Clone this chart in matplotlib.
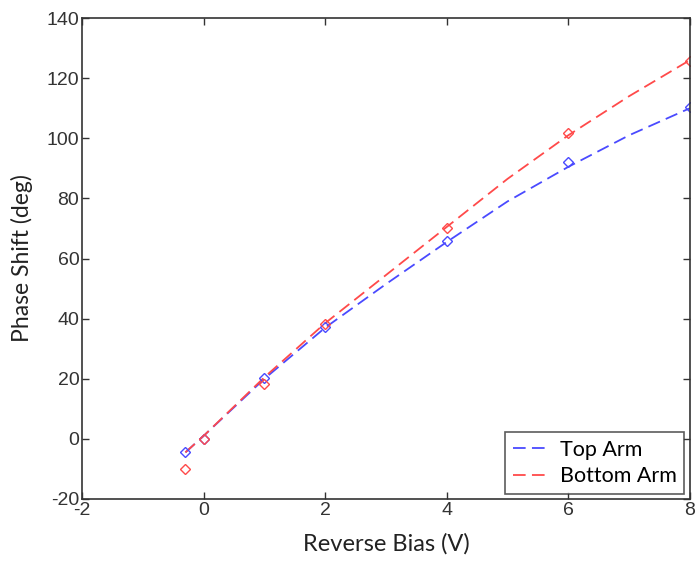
import matplotlib
matplotlib.use('Agg')
import matplotlib.pyplot as plt

plt.rcParams['axes.unicode_minus'] = False

# measured phase shift (diamonds)
bias_meas = [-0.3, 0, 1, 2, 4, 6, 8]
top_meas = [-4.5, 0, 20.3, 37.3, 66, 92, 110.3]
bottom_meas = [-10, 0, 18.3, 38.3, 70.3, 101.7, 125.7]

# fit curves (dashed)
bias_fit = [-0.3, 0, 1, 2, 3, 4, 5, 6, 7, 8]
top_fit = [-4.5, 1, 20, 37, 51.5, 65.5, 79, 90.5, 101, 110]
bottom_fit = [-4.5, 1, 20.5, 38.5, 54.5, 70.5, 86.5, 101, 114, 126]

blue = '#4a4aff'
red = '#ff4a4a'
label_font = 'Lato'

fig = plt.figure(figsize=(6.96, 5.67), dpi=100)
ax = fig.add_axes([0.118, 0.120, 0.873, 0.848])

ax.plot(bias_fit, top_fit, color=blue, linestyle=(0, (7, 3.5)), linewidth=1.3, label='Top Arm')
ax.plot(bias_fit, bottom_fit, color=red, linestyle=(0, (7, 3.5)), linewidth=1.3, label='Bottom Arm')
ax.plot(bias_meas, top_meas, linestyle='none', marker='D', markersize=5,
        markerfacecolor='none', markeredgecolor=blue, markeredgewidth=1)
ax.plot(bias_meas, bottom_meas, linestyle='none', marker='D', markersize=5,
        markerfacecolor='none', markeredgecolor=red, markeredgewidth=1)

ax.set_xlim(-2, 8)
ax.set_ylim(-20, 140)
ax.set_xticks(range(-2, 9, 2))
ax.set_yticks(range(-20, 141, 20))
ax.tick_params(direction='in', top=True, right=True, length=5, width=1,
               labelsize=14, colors='#333333', labelcolor='#333333', pad=2)
for lab in ax.get_xticklabels() + ax.get_yticklabels():
    lab.set_fontfamily('Liberation Sans')
for s in ax.spines.values():
    s.set_color('#333333')
    s.set_linewidth(1.2)

ax.set_xlabel('Reverse Bias (V)', fontsize=17, family=label_font, color='#222222', labelpad=10)
ax.set_ylabel('Phase Shift (deg)', fontsize=16.5, family=label_font, color='#222222', labelpad=10)

leg = ax.legend(loc='lower right', prop={'family': label_font, 'size': 15.5},
                fancybox=False, edgecolor='#333333', handlelength=1.7,
                borderaxespad=0.25, labelspacing=0.3, handletextpad=0.5, borderpad=0.35)
leg.get_frame().set_linewidth(1.2)

fig.savefig('out.png', dpi=100)
